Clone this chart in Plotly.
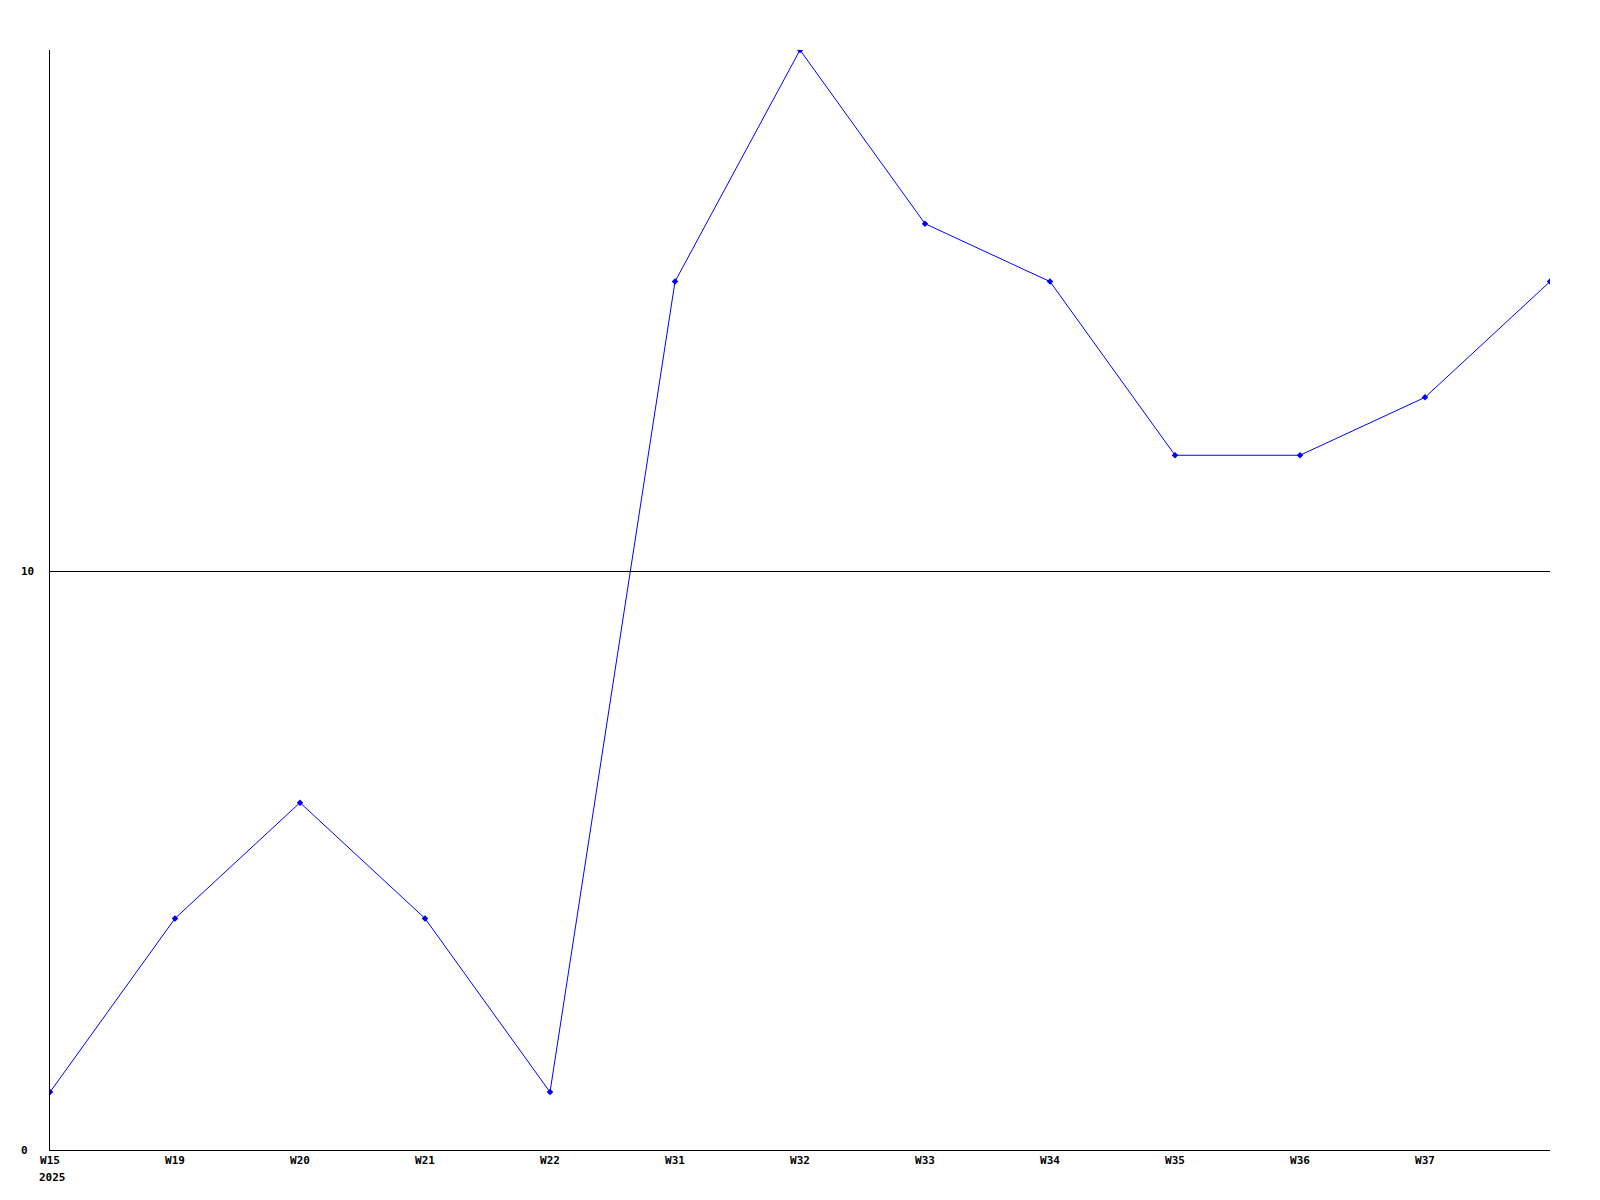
import plotly.graph_objects as go

weeks = ["W15", "W19", "W20", "W21", "W22", "W31", "W32", "W33", "W34", "W35", "W36", "W37", "W38"]
values = [1, 4, 6, 4, 1, 15, 19, 16, 15, 12, 12, 13, 15]
tick_labels = weeks[:-1]
y_ticks = [0, 10]
year_label = "2025"

FONT = dict(family="DejaVu Sans Mono", size=11, color="black")

fig = go.Figure()
fig.add_trace(go.Scatter(
    x=list(range(len(weeks))), y=values, mode="lines+markers",
    line=dict(color="#0000ff", width=1),
    marker=dict(color="#0000ff", size=5, symbol="diamond"),
    cliponaxis=True, hoverinfo="skip",
))

annotations = []
for v in y_ticks:
    annotations.append(dict(x=0, xref="paper", xshift=-31, y=v, yref="y",
                            text="<b>%d</b>" % v, showarrow=False,
                            xanchor="left", yanchor="middle", font=FONT))
annotations.append(dict(x=0, xref="x", xshift=-13, y=0, yref="paper", yshift=-19,
                        text="<b>%s</b>" % year_label, showarrow=False,
                        xanchor="left", yanchor="top", font=FONT))

fig.update_layout(
    width=1600, height=1200,
    margin=dict(l=42, r=58, t=42, b=58),
    paper_bgcolor="white", plot_bgcolor="white",
    showlegend=False,
    font=FONT,
    annotations=annotations,
    xaxis=dict(
        range=[0, len(weeks) - 1],
        tickmode="array",
        tickvals=list(range(len(tick_labels))),
        ticktext=["<b>%s</b>" % t for t in tick_labels],
        showgrid=False, zeroline=False,
        showline=True, linecolor="black", linewidth=1,
        ticks="", ticklen=0, tickfont=FONT,
    ),
    yaxis=dict(
        range=[0, 19],
        tickmode="array", tickvals=y_ticks, showticklabels=False,
        showgrid=True, gridcolor="black", gridwidth=1,
        zeroline=False,
        showline=True, linecolor="black", linewidth=1,
        ticks="",
    ),
)

fig.write_html("out.html")
